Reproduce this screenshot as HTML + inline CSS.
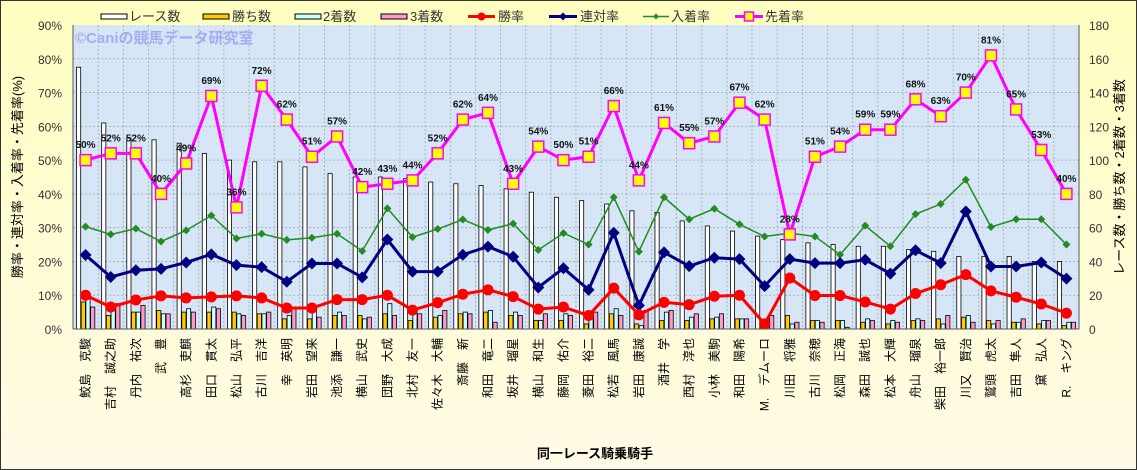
<!DOCTYPE html>
<html><head><meta charset="utf-8"><style>
html,body{margin:0;padding:0;background:#fff}
svg{display:block}
text{font-family:"Liberation Sans","Noto Sans CJK JP",sans-serif}
</style></head><body>
<svg id="c" width="1137" height="470" xmlns="http://www.w3.org/2000/svg">
<defs>
<linearGradient id="bg" x1="0" y1="0" x2="0" y2="1"><stop offset="0" stop-color="#ffffc0"/><stop offset="1" stop-color="#fffbe6"/></linearGradient>
<pattern id="dots" width="4" height="4" patternUnits="userSpaceOnUse"><rect width="4" height="4" fill="#d6e6f7"/><rect x="1" y="1" width="1" height="1" fill="#e6f0fb"/><rect x="3" y="2" width="1" height="1" fill="#c9dcf2"/></pattern>
</defs>
<rect x="0" y="0" width="1137" height="470" fill="url(#bg)"/>
<rect x="0.5" y="0.5" width="1136" height="469" fill="none" stroke="#333" stroke-width="1"/>
<rect x="73" y="25" width="1006" height="304" fill="url(#dots)"/>
<g id="grid"></g>
<text x="75" y="43" font-size="15" font-weight="bold" fill="#a4acf0">©Caniの競馬データ研究室</text>
<g id="bars"></g>
<g id="lines"></g>
<line x1="73" y1="25" x2="73" y2="329" stroke="#555"/>
<line x1="1079" y1="25" x2="1079" y2="329" stroke="#555"/>
<line x1="73" y1="329" x2="1079" y2="329" stroke="#555"/>
<g id="ticks" font-size="12" fill="#333"></g>
<text transform="translate(22,177) rotate(-90)" text-anchor="middle" font-size="13" fill="#000">勝率・連対率・入着率・先着率(%)</text>
<text transform="translate(1124,177) rotate(-90)" text-anchor="middle" font-size="13" fill="#000">レース数・勝ち数・2着数・3着数</text>
<text x="595" y="458" text-anchor="middle" font-size="13" font-weight="bold" fill="#000">同一レース騎乗騎手</text>
<g id="names" font-size="12" fill="#000"></g>
<g id="legend" font-size="13" fill="#333">
<rect x="101" y="14" width="26" height="5" fill="#fff" stroke="#000"/><text x="129" y="21">レース数</text>
<rect x="203" y="14" width="26" height="5" fill="#ffcc00" stroke="#000"/><text x="232" y="21">勝ち数</text>
<rect x="295" y="14" width="26" height="5" fill="#ccffff" stroke="#000"/><text x="323" y="21">2着数</text>
<rect x="381" y="14" width="26" height="5" fill="#ff99cc" stroke="#000"/><text x="410" y="21">3着数</text>
<line x1="468" y1="16.5" x2="495" y2="16.5" stroke="#ff0000" stroke-width="3"/><circle cx="481.5" cy="16.5" r="4" fill="#ff0000"/><text x="498" y="21">勝率</text>
<line x1="549" y1="16.5" x2="577" y2="16.5" stroke="#000080" stroke-width="3"/><path d="M563 12.5 L567 16.5 L563 20.5 L559 16.5Z" fill="#000080"/><text x="580" y="21">連対率</text>
<line x1="643" y1="16.5" x2="669" y2="16.5" stroke="#228b22" stroke-width="1.5"/><path d="M656 13.5 L659 16.5 L656 19.5 L653 16.5Z" fill="#228b22"/><text x="671" y="21">入着率</text>
<line x1="735" y1="16.5" x2="763" y2="16.5" stroke="#ff00ff" stroke-width="3"/><rect x="744.5" y="12" width="9" height="9" fill="#ffff00" stroke="#ff00ff" stroke-width="1.5"/><text x="765" y="21">先着率</text>
</g>
</svg>
<script>
var names=["鮫島　克駿","吉村　誠之助","丹内　祐次","武　豊","高杉　吏麒","田口　貫太","松山　弘平","古川　吉洋","幸　英明","岩田　望来","池添　謙一","横山　武史","団野　大成","北村　友一","佐々木　大輔","斎藤　新","和田　竜二","坂井　瑠星","横山　和生","藤岡　佑介","菱田　裕二","松若　風馬","岩田　康誠","酒井　学","西村　淳也","小林　美駒","和田　陽希","M.　デムーロ","川田　将雅","古川　奈穂","松岡　正海","森田　誠也","松本　大輝","舟山　瑠泉","柴田　裕一郎","川又　賢治","鷲頭　虎太","吉田　隼人","黛　弘人","R.　キング"];
var sen=[50,52,52,40,49,69,36,72,62,51,57,42,43,44,52,62,64,43,54,50,51,66,44,61,55,57,67,62,28,51,54,59,59,68,63,70,81,65,53,40];
var win=[10,6.5,8.6,9.8,9.2,9.5,9.8,9.2,6.2,6.2,8.7,8.7,10,5.6,7.8,10.3,11.6,9.6,5.9,6.5,4,12.1,4.2,7.9,7.2,9.7,10,1.5,15.1,9.9,9.9,8,5.9,10.5,13.1,16.1,11.3,9.4,7.4,4.7];
var ren=[21.9,15.4,17.4,17.8,19.7,22.1,18.9,18.3,14,19.4,19.4,15.3,26.5,17,17,22,24.4,21.4,12.3,18,11.6,28.5,7,22.7,18.6,21.1,20.7,12.7,20.7,19.5,19.5,20.5,16.4,23.3,19.5,34.8,18.5,18.5,19.7,14.9];
var nyu=[30.3,28,29.7,25.9,29.2,33.6,26.8,28.2,26.4,27,28.2,23.1,35.7,27.2,29.6,32.4,29.3,31.2,23.4,28.4,25,39,22.9,39,32.5,35.6,31,27.4,28.4,27.4,22,30.6,24.5,34,37,44.2,30.2,32.5,32.5,25];
var races=[155,122,113,112,110,104,100,99,99,96,92,90,90,89,87,86,85,83,81,78,76,74,70,69,64,61,58,55,53,51,50,49,49,47,46,43,43,43,40,40];
var NS="http://www.w3.org/2000/svg";
function el(p,t,a,txt){var e=document.createElementNS(NS,t);for(var k in a)e.setAttribute(k,a[k]);if(txt!=null)e.textContent=txt;document.getElementById(p).appendChild(e);return e;}
var L=73,W=1006/40,B=329,py=function(v){return B-v*304/90;},ry=function(v){return B-v*304/180;};
for(var i=1;i<40;i++)el("grid","line",{x1:L+i*W,y1:25,x2:L+i*W,y2:329,stroke:"#9aa","stroke-width":0.8,"stroke-dasharray":"2,2"});
for(var j=1;j<9;j++)el("grid","line",{x1:73,y1:py(j*10),x2:1079,y2:py(j*10),stroke:"#9aa","stroke-width":0.8,"stroke-dasharray":"2,2"});
for(var j=0;j<=9;j++){el("ticks","text",{x:62,y:py(j*10)+5,"text-anchor":"end"},(j*10)+"%");el("ticks","text",{x:1089,y:ry(j*20)+5},String(j*20));}
var cols=["#ffffff","#ffcc00","#ccffff","#ff99cc"];
for(var i=0;i<40;i++){
 var r=races[i],vals=[r,Math.round(r*win[i]/100),Math.round(r*(ren[i]-win[i])/100),Math.round(r*(nyu[i]-ren[i])/100)];
 for(var k=0;k<4;k++){var x=L+i*W+3.5+k*4.7;var y=ry(vals[k]);el("bars","rect",{x:x,y:y,width:4.2,height:B-y,fill:cols[k],stroke:"#000","stroke-width":0.8});}
 var cx=L+(i+0.5)*W;
 el("names","text",{transform:"translate("+(cx+4)+",338) rotate(-90)","text-anchor":"end"},names[i]);
}
function pts(a){return a.map(function(v,i){return (L+(i+0.5)*W)+","+py(v);}).join(" ");}
el("lines","polyline",{points:pts(nyu),fill:"none",stroke:"#228b22","stroke-width":1.5});
nyu.forEach(function(v,i){var x=L+(i+0.5)*W,y=py(v);el("lines","path",{d:"M"+x+" "+(y-4)+"L"+(x+4)+" "+y+"L"+x+" "+(y+4)+"L"+(x-4)+" "+y+"Z",fill:"#228b22"});});
el("lines","polyline",{points:pts(ren),fill:"none",stroke:"#000080","stroke-width":3});
ren.forEach(function(v,i){var x=L+(i+0.5)*W,y=py(v);el("lines","path",{d:"M"+x+" "+(y-6)+"L"+(x+6)+" "+y+"L"+x+" "+(y+6)+"L"+(x-6)+" "+y+"Z",fill:"#000080"});});
el("lines","polyline",{points:pts(win),fill:"none",stroke:"#ff0000","stroke-width":3});
win.forEach(function(v,i){el("lines","circle",{cx:L+(i+0.5)*W,cy:py(v),r:5.5,fill:"#ff0000"});});
el("lines","polyline",{points:pts(sen),fill:"none",stroke:"#ff00ff","stroke-width":3});
sen.forEach(function(v,i){var x=L+(i+0.5)*W,y=py(v);el("lines","rect",{x:x-5.5,y:y-5.5,width:11,height:11,fill:"#ffff00",stroke:"#ff00ff","stroke-width":1.5});
 el("lines","text",{x:x,y:y-12,"text-anchor":"middle","font-size":10,"font-weight":"bold",fill:"#111"},v+"%");});
</script>
</body></html>
